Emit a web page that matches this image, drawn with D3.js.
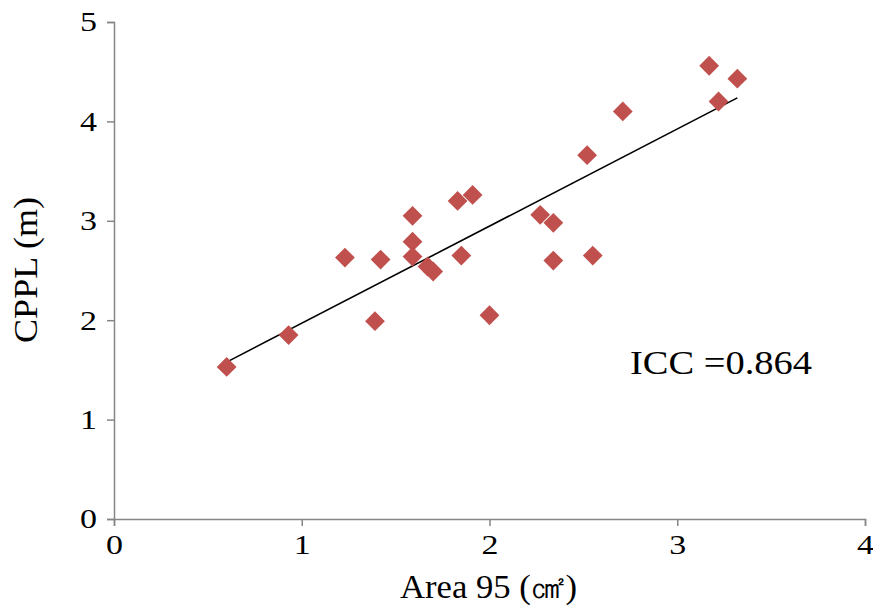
<!DOCTYPE html>
<html><head><meta charset="utf-8">
<script src="https://cdn.jsdelivr.net/npm/d3@7"></script>
<style>body{margin:0;background:#fff}svg{display:block}</style>
</head><body>
<svg id="c" width="873" height="607"></svg>
<script>
const area95 = [0.60,0.93,1.23,1.39,1.42,1.59,1.59,1.59,1.67,1.70,1.83,1.85,1.91,2.00,2.27,2.34,2.34,2.52,2.55,2.71,3.17,3.22,3.32];
const cppl   = [1.53,1.85,2.63,1.99,2.61,3.05,2.79,2.64,2.54,2.49,3.20,2.65,3.26,2.05,3.06,2.98,2.60,3.66,2.65,4.10,4.56,4.20,4.43];
const xTicks = [0,1,2,3,4];
const yTicks = [0,1,2,3,4,5];
const annotation = "ICC =0.864";

const svg = d3.select("#c");
const font = "'Liberation Serif','DejaVu Serif',serif";
const x = d3.scaleLinear().domain([0,4]).range([114,865]);
const y = d3.scaleLinear().domain([0,5]).range([519,22]);
const axisColor = "#868686";

const gx = svg.append("g").attr("transform","translate(0,519)")
  .call(d3.axisBottom(x).tickValues(xTicks).tickSize(7).tickPadding(8).tickFormat(d3.format("d")));
const gy = svg.append("g").attr("transform","translate(114,0)")
  .call(d3.axisLeft(y).tickValues(yTicks).tickSize(7).tickPadding(10).tickFormat(d3.format("d")));
[gx,gy].forEach(g=>{
  g.select(".domain").attr("stroke",axisColor).attr("stroke-width",1.5);
  g.selectAll(".tick line").attr("stroke",axisColor).attr("stroke-width",1.5);
  g.selectAll(".tick text").attr("fill","#000").style("font-family",font).style("font-size","28px")
    .attr("textLength",17).attr("lengthAdjust","spacingAndGlyphs");
});

// regression line
const n = area95.length;
const mx = d3.mean(area95), my = d3.mean(cppl);
let sxy=0, sxx=0;
for(let i=0;i<n;i++){sxy+=(area95[i]-mx)*(cppl[i]-my);sxx+=(area95[i]-mx)**2;}
const b = sxy/sxx, a = my-b*mx;
const [x0,x1] = d3.extent(area95);
svg.append("line").attr("x1",x(x0)).attr("y1",y(a+b*x0)).attr("x2",x(x1)).attr("y2",y(a+b*x1))
  .attr("stroke","#000").attr("stroke-width",1.6);

const sym = d3.symbol().type(d3.symbolSquare).size(196);
svg.append("g").selectAll("path").data(area95.map((v,i)=>[v,cppl[i]])).join("path")
  .attr("d",sym).attr("fill","#C0504D")
  .attr("transform",d=>`translate(${x(d[0])},${y(d[1])}) rotate(45)`);

svg.append("text").attr("x",630).attr("y",374).text(annotation)
  .attr("textLength",182).attr("lengthAdjust","spacingAndGlyphs")
  .style("font-family",font).style("font-size","34px");

svg.append("text").attr("x",400).attr("y",598)
  .attr("textLength",177).attr("lengthAdjust","spacingAndGlyphs")
  .style("font-family",font).style("font-size","33px").text("Area 95 (㎠)");
svg.append("text").attr("transform","translate(37,343) rotate(-90)")
  .attr("textLength",146).attr("lengthAdjust","spacingAndGlyphs")
  .style("font-family",font).style("font-size","33px").text("CPPL (m)");
</script>
</body></html>
